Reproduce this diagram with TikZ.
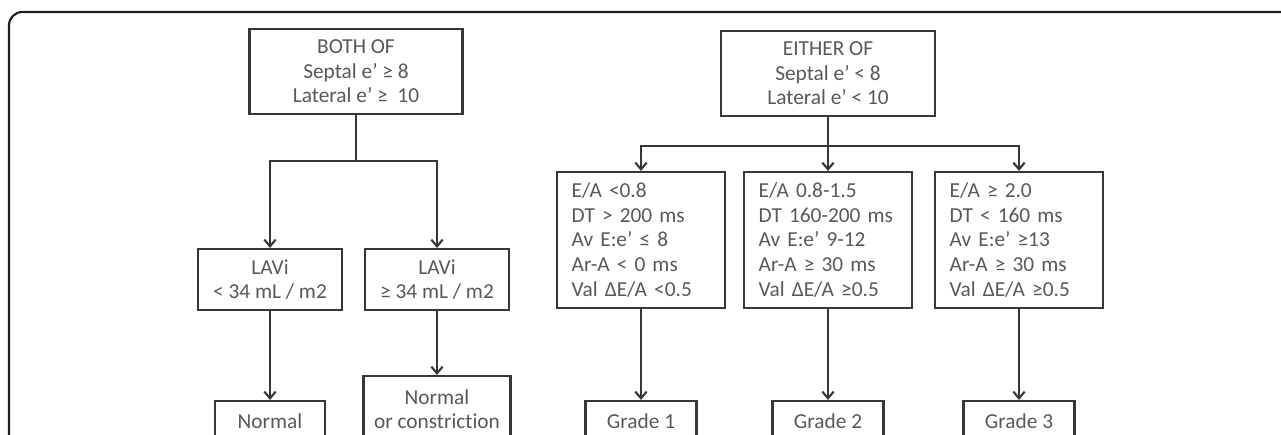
\documentclass[tikz,border=0pt]{standalone}
\usepackage{fontspec}
\setmainfont{Carlito}[Ligatures=NoCommon]
\usetikzlibrary{arrows.meta,positioning,calc}
\definecolor{boxline}{RGB}{55,55,55}
\definecolor{textgray}{RGB}{88,88,88}
\definecolor{framedark}{RGB}{30,30,30}
\newcommand{\chartfont}{\fontsize{16}{18.4}\selectfont}
\tikzset{
  critbox/.style={draw=boxline, line width=1.6pt, text=textgray, align=center, font=\chartfont, inner sep=0pt},
  gradebox/.style={draw=boxline, line width=1.6pt, text=textgray, align=left, font=\chartfont,
    text width=104pt, inner xsep=11.25pt, inner ysep=0pt, minimum height=102pt},
  link/.style={draw=boxline, line width=1.6pt, -{Straight Barb[length=5pt,width=8.5pt,line width=1.6pt]}},
  plain/.style={draw=boxline, line width=1.6pt}
}

\begin{document}
\begin{tikzpicture}[x=0.75pt, y=-0.75pt]

\useasboundingbox (0,0) rectangle (1281,435);
\clip (0,0) rectangle (1281,435);

% Frame
\draw[framedark, line width=1.6pt, rounded corners=10] (9,470) -- (9,12) -- (1300,12);

% Normal e' branch
\node[critbox, minimum width=159.75pt, minimum height=63.75pt] (both) at (356,71.5)
  {BOTH OF\\Septal e’ ≥ 8\\Lateral e’ ≥\ \ 10};
\node[critbox, minimum width=108pt, minimum height=45.75pt] (lavilow) at (270,279.5)
  {LAVi\\< 34 mL / m2};
\node[critbox, minimum width=108pt, minimum height=45.75pt] (lavihigh) at (437,279.5)
  {LAVi\\≥ 34 mL / m2};
\node[critbox, minimum width=82.5pt, minimum height=30.75pt] (normal) at (270,421.5)
  {Normal};
\node[critbox, minimum width=110.25pt, minimum height=49.5pt] (constrict) at (437,409)
  {Normal\\or constriction};

\coordinate (lsplit) at (356,161);
\draw[plain] (both.south) -- (lsplit);
\draw[link] (lsplit) -| (lavilow.north);
\draw[link] (lsplit) -| (lavihigh.north);
\draw[link] (lavilow) -- (normal);
\draw[link] (lavihigh) -- (constrict);

% Reduced e' branch
\node[critbox, minimum width=160.5pt, minimum height=63.75pt] (either) at (828,73.5)
  {EITHER OF\\Septal e’ < 8\\Lateral e’ < 10};
\node[gradebox] (ea) at (641,240)
  {E/A <0.8\\DT > 200~ms\\Av E:e’ ≤ 8\\Ar-A < 0~ms\\Val ΔE/A <0.5};
\node[gradebox] (eb) at (828,240)
  {E/A 0.8-1.5\\DT 160-200~ms\\Av E:e’ 9-12\\Ar-A ≥ 30~ms\\Val ΔE/A ≥0.5};
\node[gradebox] (ec) at (1019,240)
  {E/A ≥ 2.0\\DT < 160~ms\\Av E:e’ ≥13\\Ar-A ≥ 30~ms\\Val ΔE/A ≥0.5};
\node[critbox, minimum width=83.25pt, minimum height=30.75pt] (ga) at (641,421.5) {Grade 1};
\node[critbox, minimum width=83.25pt, minimum height=30.75pt] (gb) at (828,421.5) {Grade 2};
\node[critbox, minimum width=83.25pt, minimum height=30.75pt] (gc) at (1019,421.5) {Grade 3};

\coordinate (rsplit) at (828,146);
\draw[plain] (either.south) -- (rsplit);
\draw[link] (rsplit) -| (ea.north);
\draw[link] (rsplit) -- (eb.north);
\draw[link] (rsplit) -| (ec.north);
\draw[link] (ea) -- (ga);
\draw[link] (eb) -- (gb);
\draw[link] (ec) -- (gc);

\end{tikzpicture}
\end{document}
